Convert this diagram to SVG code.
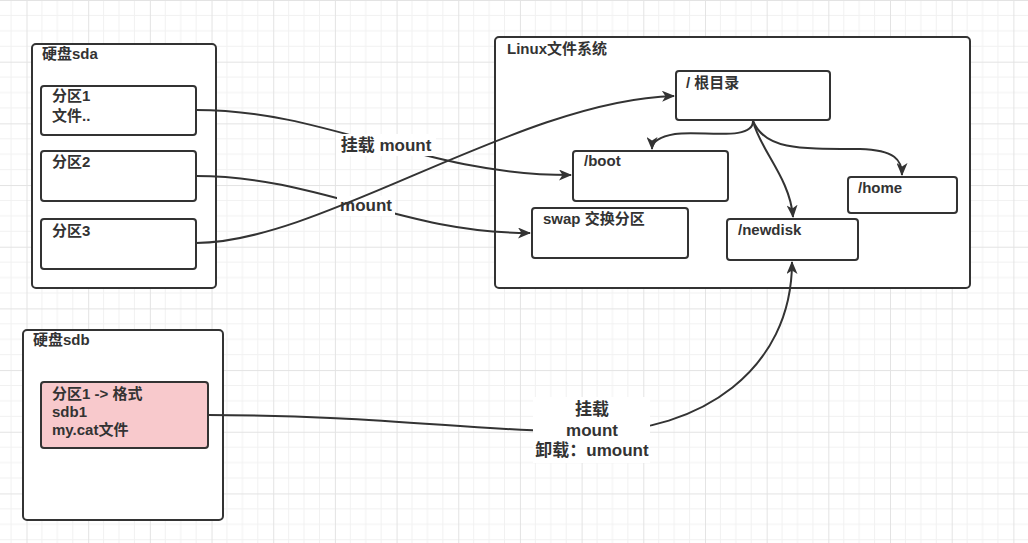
<svg xmlns="http://www.w3.org/2000/svg" width="1028" height="543" viewBox="0 0 1028 543">
  <defs>
    <pattern id="grid" x="26.5" y="0" width="61.68" height="61.68" patternUnits="userSpaceOnUse">
      <path d="M15.42,0V61.68M30.84,0V61.68M46.26,0V61.68M0,15.42H61.68M0,30.84H61.68M0,46.26H61.68" stroke="#f1f1f1" stroke-width="1" fill="none"/>
      <path d="M0.5,0V61.68M0,0.5H61.68" stroke="#e3e3e3" stroke-width="1" fill="none"/>
    </pattern>
    <marker id="arr" viewBox="0 0 13 11" refX="12" refY="5.5" markerWidth="13" markerHeight="11" markerUnits="userSpaceOnUse" orient="auto">
      <path d="M0,0 L13,5.5 L0,11 L3.5,5.5 Z" fill="#333"/>
    </marker>
    <style>
      .box { fill: #fff; stroke: #333; stroke-width: 2; }
      .pink { fill: #f8c9cc; stroke: #333; stroke-width: 2; }
      .t { font-family: "Liberation Sans", "Noto Sans CJK SC", sans-serif; font-weight: bold; font-size: 15px; fill: #333; }
      .lbl { font-family: "Liberation Sans", "Noto Sans CJK SC", sans-serif; font-weight: bold; font-size: 17px; fill: #333; text-anchor: middle; }
      .edge { fill: none; stroke: #333; stroke-width: 2; }
      .arrow { marker-end: url(#arr); }
      .bg { fill: #fff; }
    </style>
  </defs>
  <rect width="1028" height="543" fill="#fff"/>
  <rect width="1028" height="543" fill="url(#grid)"/>

  <g id="sda">
    <rect class="box" x="32" y="44" width="184" height="244" rx="4"/>
    <text class="t" x="42" y="59">硬盘sda</text>
  </g>
  <g id="sda1">
    <rect class="box" x="41" y="86" width="155" height="49" rx="3"/>
    <text class="t" x="52" y="101">分区1</text>
    <text class="t" x="52" y="121">文件..</text>
  </g>
  <g id="sda2">
    <rect class="box" x="41" y="151" width="155" height="50" rx="3"/>
    <text class="t" x="52" y="167">分区2</text>
  </g>
  <g id="sda3">
    <rect class="box" x="41" y="219" width="155" height="50" rx="3"/>
    <text class="t" x="52" y="236">分区3</text>
  </g>

  <g id="linuxfs">
    <rect class="box" x="495" y="37" width="475" height="251" rx="4"/>
    <text class="t" x="507" y="54">Linux文件系统</text>
  </g>
  <g id="root">
    <rect class="box" x="676" y="71" width="154" height="49" rx="3"/>
    <text class="t" x="686" y="88">/ 根目录</text>
  </g>
  <g id="boot">
    <rect class="box" x="573" y="151" width="155" height="50" rx="3"/>
    <text class="t" x="584" y="166">/boot</text>
  </g>
  <g id="swap">
    <rect class="box" x="532" y="208" width="156" height="50" rx="3"/>
    <text class="t" x="543" y="224">swap 交换分区</text>
  </g>
  <g id="newdisk">
    <rect class="box" x="727" y="219" width="131" height="41" rx="3"/>
    <text class="t" x="738" y="235">/newdisk</text>
  </g>
  <g id="home">
    <rect class="box" x="848" y="177" width="109" height="36" rx="3"/>
    <text class="t" x="858" y="193">/home</text>
  </g>

  <g id="sdb">
    <rect class="box" x="23" y="330" width="200" height="190" rx="4"/>
    <text class="t" x="33" y="345">硬盘sdb</text>
  </g>
  <g id="sdb1">
    <rect class="pink" x="41" y="382" width="167" height="66" rx="3"/>
    <text class="t" x="52" y="399">分区1 -&gt; 格式</text>
    <text class="t" x="52" y="417">sdb1</text>
    <text class="t" x="52" y="435">my.cat文件</text>
  </g>

  <g id="connectors">
    <g id="e-sda1-boot">
      <path class="edge arrow" d="M196,110 C330,110 420,175 571,175"/>
      <rect class="bg" x="336" y="134" width="100" height="22"/>
      <text class="lbl" x="386" y="151">挂载 mount</text>
    </g>
    <g id="e-sda2-swap">
      <path class="edge arrow" d="M196,176 C320,176 400,233 530,233"/>
      <rect class="bg" x="337" y="196" width="58" height="20"/>
      <text class="lbl" x="366" y="211">mount</text>
    </g>
    <g id="e-sda3-root">
      <path class="edge arrow" d="M196,243 C320,243 520,100 674,96"/>
    </g>
    <path class="edge arrow" d="M753,121 C753,142 700,130 675,134 C658,137 652,142 652,149"/>
    <path class="edge arrow" d="M753,121 C760,150 790,178 793,217"/>
    <path class="edge arrow" d="M753,121 C765,150 800,149 860,149 C895,150 902,160 902,175"/>
    <g id="e-sdb1-newdisk">
      <path class="edge arrow" d="M208,415 C380,415 480,432 592,432 C700,432 792,370 792,262"/>
      <rect class="bg" x="533" y="397" width="117" height="66"/>
      <text class="lbl" x="592" y="415">挂载</text>
      <text class="lbl" x="592" y="436">mount</text>
      <text class="lbl" x="592" y="456">卸载：umount</text>
    </g>
  </g>
</svg>
